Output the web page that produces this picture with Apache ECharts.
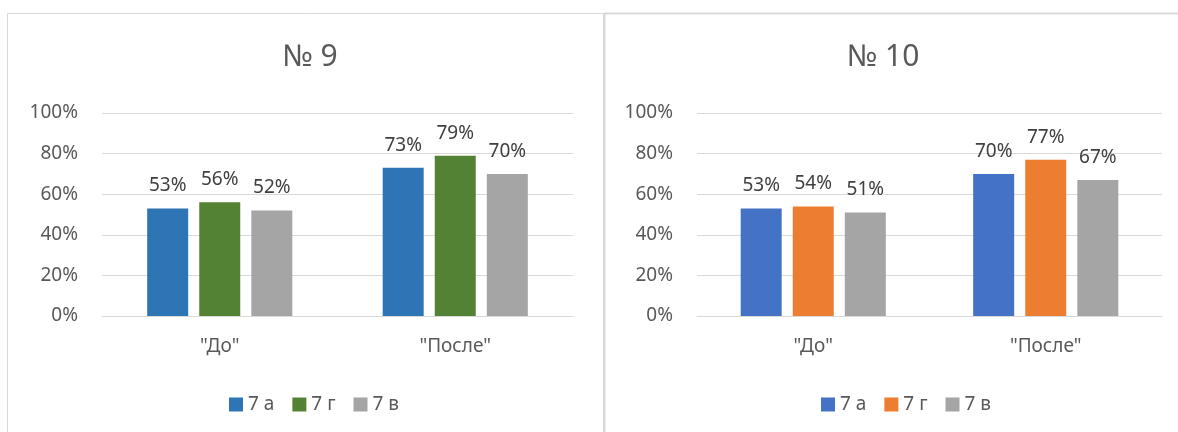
<!DOCTYPE html>
<html>
<head>
<meta charset="utf-8">
<script src="https://cdn.jsdelivr.net/npm/echarts@6/dist/echarts.min.js"></script>
<style>
  html, body { margin: 0; padding: 0; background: #fff; }
  #chart { width: 1178px; height: 432px; }
</style>
</head>
<body>
<div id="chart"></div>
<script>
// Categories and class names
const categories = ['"До"', '"После"'];
const classNames = ['7 а', '7 г', '7 в'];

// School № 9 results, percent
const school9_7a = [53, 73];
const school9_7g = [56, 79];
const school9_7v = [52, 70];

// School № 10 results, percent
const school10_7a = [53, 70];
const school10_7g = [54, 77];
const school10_7v = [51, 67];

const titles = ['№ 9', '№ 10'];
const yTicks = [0, 20, 40, 60, 80, 100];

const colors9 = ['#2E75B6', '#548235', '#A5A5A5'];
const colors10 = ['#4472C4', '#ED7D31', '#A5A5A5'];

const FONT = '"Noto Sans", "Open Sans", sans-serif';
const textColor = '#595959';
const labelColor = '#404040';
const gridColor = '#D9D9D9';

function barSeries(name, data, color, idx) {
  return {
    type: 'bar',
    name: name,
    data: data,
    xAxisIndex: idx,
    yAxisIndex: idx,
    barWidth: 41,
    barGap: '27%',
    itemStyle: { color: color },
    label: {
      show: true,
      position: 'top',
      distance: 13,
      formatter: p => p.value + '%',
      color: labelColor,
      fontSize: 19,
      fontFamily: FONT
    }
  };
}

function xAxis(idx) {
  return {
    type: 'category',
    gridIndex: idx,
    data: categories,
    axisLine: { lineStyle: { color: gridColor } },
    axisTick: { show: false },
    axisLabel: { color: textColor, fontSize: 19, fontFamily: FONT, margin: 21 }
  };
}

function yAxis(idx) {
  return {
    type: 'value',
    gridIndex: idx,
    min: yTicks[0],
    max: yTicks[yTicks.length - 1],
    interval: yTicks[1] - yTicks[0],
    axisLine: { show: false },
    axisTick: { show: false },
    splitLine: { lineStyle: { color: gridColor } },
    axisLabel: { color: textColor, fontSize: 19, fontFamily: FONT, margin: 24, formatter: '{value}%' }
  };
}

function legend(left, colors) {
  return {
    data: classNames.map((n, i) => ({ name: n, itemStyle: { color: colors[i] } })),
    left: left, top: 390,
    itemWidth: 14, itemHeight: 14, itemGap: 18,
    icon: 'rect', selectedMode: false,
    textStyle: { color: textColor, fontSize: 19, fontFamily: FONT }
  };
}

function title(text, center) {
  return {
    text: text, left: center, top: 37, textAlign: 'center',
    textStyle: { color: textColor, fontSize: 30, fontWeight: 'normal', fontFamily: FONT }
  };
}

const chart = echarts.init(document.getElementById('chart'), null, { renderer: 'canvas' });

chart.setOption({
  backgroundColor: '#fff',
  animation: false,
  graphic: [
    { type: 'rect', shape: { x: 7.5, y: 13.5, width: 596, height: 440 },
      style: { fill: 'none', stroke: gridColor, lineWidth: 1 } },
    { type: 'rect', shape: { x: 604.5, y: 13.5, width: 600, height: 440 },
      style: { fill: 'none', stroke: gridColor, lineWidth: 2 } }
  ],
  title: [title(titles[0], 305), title(titles[1], 878)],
  legend: [legend(224, colors9), legend(816, colors10)],
  grid: [
    { left: 102, top: 113, width: 471, height: 203 },
    { left: 697, top: 113, width: 465, height: 203 }
  ],
  xAxis: [xAxis(0), xAxis(1)],
  yAxis: [yAxis(0), yAxis(1)],
  series: [
    barSeries(classNames[0], school9_7a, colors9[0], 0),
    barSeries(classNames[1], school9_7g, colors9[1], 0),
    barSeries(classNames[2], school9_7v, colors9[2], 0),
    barSeries(classNames[0], school10_7a, colors10[0], 1),
    barSeries(classNames[1], school10_7g, colors10[1], 1),
    barSeries(classNames[2], school10_7v, colors10[2], 1)
  ]
});
</script>
</body>
</html>
